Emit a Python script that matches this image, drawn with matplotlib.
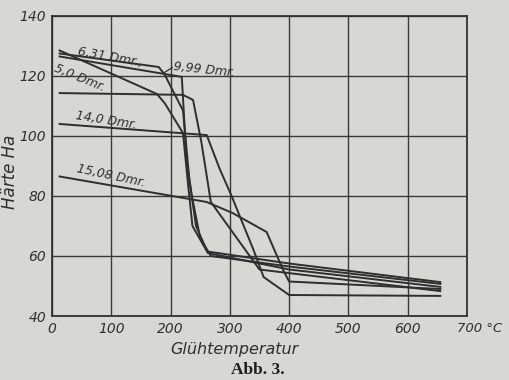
import matplotlib
matplotlib.use('Agg')
import matplotlib.pyplot as plt

# ---- data ----
x_631 = [13, 180, 190, 221, 232, 243, 262, 400, 655]
y_631 = [127.5, 123, 120.5, 108.5, 85, 70, 61.5, 57.5, 51.3]

x_999 = [13, 219, 227, 236, 250, 268, 400, 655]
y_999 = [126.5, 119.7, 92, 80, 66, 60, 56.5, 50.7]

x_50 = [13, 177, 190, 221, 229, 237, 263, 400, 655]
y_50 = [128.5, 114, 111, 101, 85, 70, 61, 55.5, 49.7]

x_114 = [13, 221, 238, 252, 268, 350, 400, 655]
y_114 = [114.3, 113.7, 112, 98, 78, 55.5, 54.3, 48.3]

x_140 = [13, 261, 283, 303, 340, 357, 400, 655]
y_140 = [104, 100.3, 89, 80, 62, 53, 47, 46.7]

x_1508 = [13, 261, 305, 362, 390, 400, 655]
y_1508 = [86.5, 78, 74.3, 68, 55.3, 51.5, 49.0]

xticks = [0, 100, 200, 300, 400, 500, 600, 700]
xtick_labels = ['0', '100', '200', '300', '400', '500', '600', '']
yticks = [40, 60, 80, 100, 120, 140]
ytick_labels = ['40', '60', '80', '100', '120', '140']

labels = ['6,31 Dmr.,', '9,99 Dmr.', '5,0 Dmr.', '14,0 Dmr.', '15,08 Dmr.']
label_pos = [(98, 126.3), (256, 122), (47, 119.3), (91, 105.3), (100, 86.7)]
label_rot = [-10, -6, -22, -9, -12]

# ---- figure ----
bg = '#d7d7d4'
ink = '#2f2f2f'
fig = plt.figure(figsize=(5.09, 3.80), dpi=100, facecolor=bg)
ax = fig.add_axes([0.102, 0.1684, 0.8155, 0.7896], facecolor=bg)

for xs, ys in [(x_631, y_631), (x_999, y_999), (x_50, y_50),
               (x_114, y_114), (x_140, y_140), (x_1508, y_1508)]:
    ax.plot(xs, ys, color=ink, lw=1.4, solid_joinstyle='miter', zorder=3)

ax.set_xlim(0, 700)
ax.set_ylim(40, 140)
ax.set_xticks(xticks)
ax.set_xticklabels(xtick_labels)
ax.set_yticks(yticks)
ax.set_yticklabels(ytick_labels)
ax.grid(True, color='#3a3a3a', lw=1.0, zorder=1)
for s in ax.spines.values():
    s.set_color('#333333')
    s.set_linewidth(1.3)
ax.tick_params(length=0, pad=4, labelsize=10, colors=ink)
for t in ax.get_xticklabels() + ax.get_yticklabels():
    t.set_fontstyle('italic')

ax.annotate('700 °C', xy=(700, 40), xytext=(-7, -4), textcoords='offset points',
            ha='left', va='top', fontsize=9.5, style='italic', color=ink)

for txt, (lx, ly), rot in zip(labels, label_pos, label_rot):
    ax.text(lx, ly, txt, fontsize=9, style='italic', color=ink,
            rotation=rot, rotation_mode='anchor', ha='center', va='center', zorder=4)
# leader for 9,99
ax.plot([190, 203], [121.2, 122.8], color=ink, lw=0.9)

ax.set_xlabel('Glühtemperatur', fontsize=11.5, style='italic', color=ink, labelpad=4)
ax.xaxis.set_label_coords(0.44, -0.085)
ax.set_ylabel('Härte Ha', fontsize=12, style='italic', color=ink, labelpad=2)
ax.yaxis.set_label_coords(-0.08, 0.48)

fig.text(0.507, 0.027, 'Abb. 3.', fontsize=12.5, fontweight='bold',
         family='Liberation Serif', ha='center', va='center', color='#1e1e1e')

fig.savefig('out.png', dpi=100, facecolor=bg)
